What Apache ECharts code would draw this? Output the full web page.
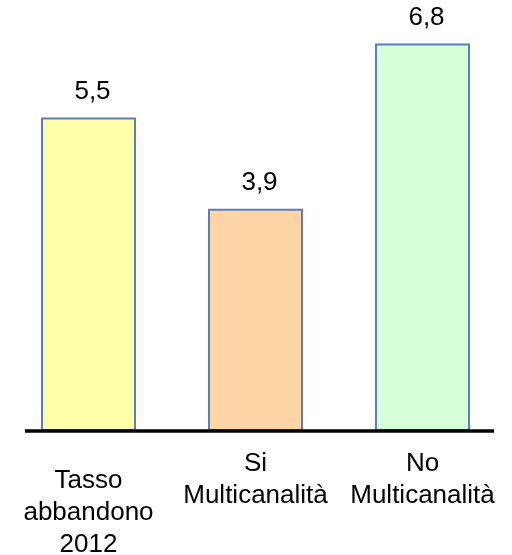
<!DOCTYPE html>
<html>
<head>
<meta charset="utf-8">
<script src="https://cdn.jsdelivr.net/npm/echarts@6/dist/echarts.min.js"></script>
<style>html,body{margin:0;padding:0;background:#fff;}#c{width:512px;height:555px;}</style>
</head>
<body>
<div id="c"></div>
<script>
const categories = ['Tasso\nabbandono\n2012', 'Si\nMulticanalità', 'No\nMulticanalità'];
const values = [5.5, 3.9, 6.8];
const barColors = ['#FFFFAA', '#FFD5A5', '#D5FFD5'];
const labelTopPad = [17, 0, 0];

const chart = echarts.init(document.getElementById('c'), null, {renderer: 'canvas'});
const FONT = 'Liberation Sans, Arial, sans-serif';
chart.setOption({
  animation: false,
  backgroundColor: '#fff',
  grid: {left: 5, right: 6, top: 32, bottom: 124, containLabel: false, outerBoundsMode: 'none'},
  xAxis: {
    type: 'category',
    data: categories.map((c, i) => ({value: c, textStyle: {padding: [labelTopPad[i], 0, 0, 0]}})),
    axisLine: {show: false},
    axisTick: {show: false},
    axisLabel: {fontSize: 26, lineHeight: 32, color: '#000', fontFamily: FONT, margin: 17, interval: 0}
  },
  yAxis: {type: 'value', min: 0, max: 7, show: false, splitLine: {show: false}},
  series: [{
    type: 'bar',
    barWidth: 95,
    data: values.map((v, i) => ({value: v, itemStyle: {color: barColors[i]}})),
    itemStyle: {borderColor: '#5A80B8', borderWidth: 2},
    label: {
      show: true, position: 'top', distance: 13, offset: [4, 0], fontSize: 26, color: '#000', fontFamily: FONT,
      formatter: p => String(p.value).replace('.', ',')
    }
  }],
  graphic: [{
    type: 'line', z: 100,
    shape: {x1: 25, y1: 431, x2: 494, y2: 431},
    style: {stroke: '#000', lineWidth: 3.5}
  }]
});
</script>
</body>
</html>
